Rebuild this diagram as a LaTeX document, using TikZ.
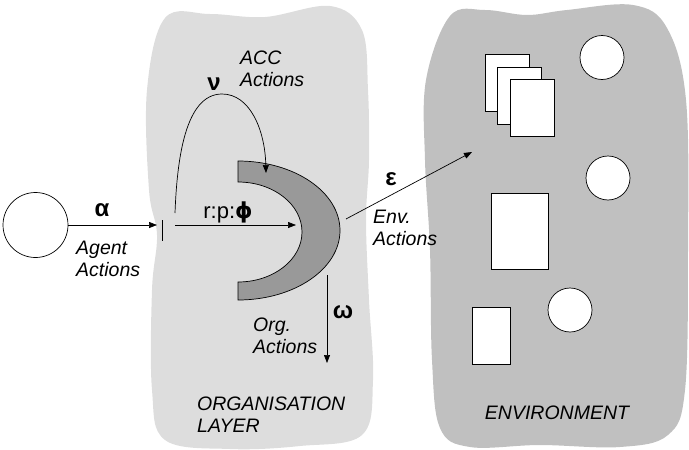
\documentclass[tikz,border=0pt]{standalone}
\usepackage{fontspec}
\setmainfont{Liberation Sans}
\newfontfamily\greekfont{DejaVu Sans}
\usetikzlibrary{arrows.meta}
\definecolor{orglayer}{HTML}{DDDDDD}
\definecolor{envlayer}{HTML}{C0C0C0}
\definecolor{ringgrey}{HTML}{999999}

\begin{document}
\begin{tikzpicture}[
  x=1pt, y=1pt,
  font=\fontsize{19.5}{21.5}\selectfont,
  wire/.style={draw=black, line width=0.7pt},
  flow/.style={wire, -{Triangle[length=8pt, width=6pt]}},
  crescent/.style={fill=ringgrey, draw=black, line width=0.7pt},
  agentball/.style={circle, draw=black, line width=0.7pt, fill=white,
                    minimum size=65pt, inner sep=0},
  thing/.style={circle, draw=black, line width=0.7pt, fill=white,
                minimum size=44pt, inner sep=0},
  sheet/.style={rectangle, draw=black, line width=0.7pt, fill=white, inner sep=0},
  greek/.style={font=\fontsize{24}{26}\selectfont\bfseries, inner sep=0},
  % anchored at the baseline of the LAST line
  lbl/.style={font=\fontsize{19.5}{21.5}\selectfont\itshape, align=left,
              anchor=base west, inner sep=0}
]
\useasboundingbox (0,0) rectangle (689,-450);

% ══ the two layers ═════════════════════════════════════════════════════════
\fill[orglayer] plot[smooth cycle, tension=0.6] coordinates {
  (147,-90) (165,-18) (210,-14) (265,-17) (330,-6) (362,-30) (368,-90)
  (369,-160) (366,-220) (369,-300) (373,-380) (362,-435) (300,-446)
  (230,-449) (165,-440) (152,-390) (152,-290) (157,-235) (149,-190)};
\fill[envlayer] plot[smooth cycle, tension=0.6] coordinates {
  (426,-80) (450,-16) (485,-10) (527,-15) (567,-10) (633,-5) (667,-28)
  (686,-100) (688,-250) (685,-390) (668,-435) (620,-447) (540,-445)
  (470,-447) (440,-428) (432,-360) (430,-250) (425,-160)};

% ══ environment contents ═══════════════════════════════════════════════════
\foreach \n/\sx/\sy in {1/507/-82.5, 2/519.5/-95.5, 3/532.5/-108}{
  \node[sheet, minimum width=44pt, minimum height=57pt] (page\n) at (\sx,\sy) {};
}
\node[sheet, minimum width=57pt, minimum height=76pt] (bigsheet) at (519.5,-231) {};
\node[sheet, minimum width=38pt, minimum height=57pt] (smallsheet) at (491,-335.5) {};
\foreach \n/\cx/\cy in {1/602/-57.5, 2/608/-178, 3/570/-310}{
  \node[thing] (thing\n) at (\cx,\cy) {};
}

% ══ agent and the crescent ═════════════════════════════════════════════════
\node[agentball] (agent) at (35.5,-225) {};
\draw[crescent] (238,-161)
  arc[start angle=90, end angle=-90, x radius=102, y radius=69.5]
  -- (238,-282)
  arc[start angle=-90, end angle=90, x radius=64, y radius=50] -- cycle;

% ══ connector ends ═════════════════════════════════════════════════════════
\coordinate (orgedge) at (157,-225);
\coordinate (ticktop) at (162,-220);
\coordinate (tickfoot) at (162,-241);
\coordinate (rpstart) at (175,-225);
\coordinate (ringin) at (296,-225);
\coordinate (accfoot) at (175,-213);
\coordinate (acctip) at (266,-173);
\coordinate (envfoot) at (346,-219);
\coordinate (envtip) at (472,-152);
\coordinate (orgtop) at (327,-275);
\coordinate (orgtip) at (327,-363);

% ══ actions ════════════════════════════════════════════════════════════════
\draw[flow] (agent.east) -- (orgedge);
\draw[wire] (ticktop) -- (tickfoot);
\draw[flow] (rpstart) -- (ringin);
\draw[flow] (accfoot) .. controls (177,-160) and (185,-94) .. (222,-94)
                      .. controls (250,-94) and (265,-130) .. (acctip);
\draw[flow] (envfoot) -- (envtip);
\draw[flow] (orgtop) -- (orgtip);

% ══ labels ═════════════════════════════════════════════════════════════════
\node[greek] (alpha) at (102,-210) {α};
\node[greek] (nu) at (214,-84) {ν};
\node[greek] (eps) at (391,-179) {ε};
\node[greek] (omega) at (343,-312) {ω};
\node[anchor=base, inner sep=0, font=\fontsize{22}{24}\selectfont] (rpf)
  at (228,-218) {r:p:{\greekfont\bfseries ϕ}};

\node[lbl] (agentlbl) at (76,-276) {Agent\\Actions};
\node[lbl] (acclbl) at (240,-86) {ACC\\Actions};
\node[lbl] (envlbl) at (373,-245) {Env.\\Actions};
\node[lbl] (orglbl) at (253,-353) {Org.\\Actions};
\node[lbl] (layerlbl) at (197,-432) {ORGANISATION\\LAYER};
\node[lbl, anchor=base] (envname) at (557,-419.5) {ENVIRONMENT};

\end{tikzpicture}
\end{document}
